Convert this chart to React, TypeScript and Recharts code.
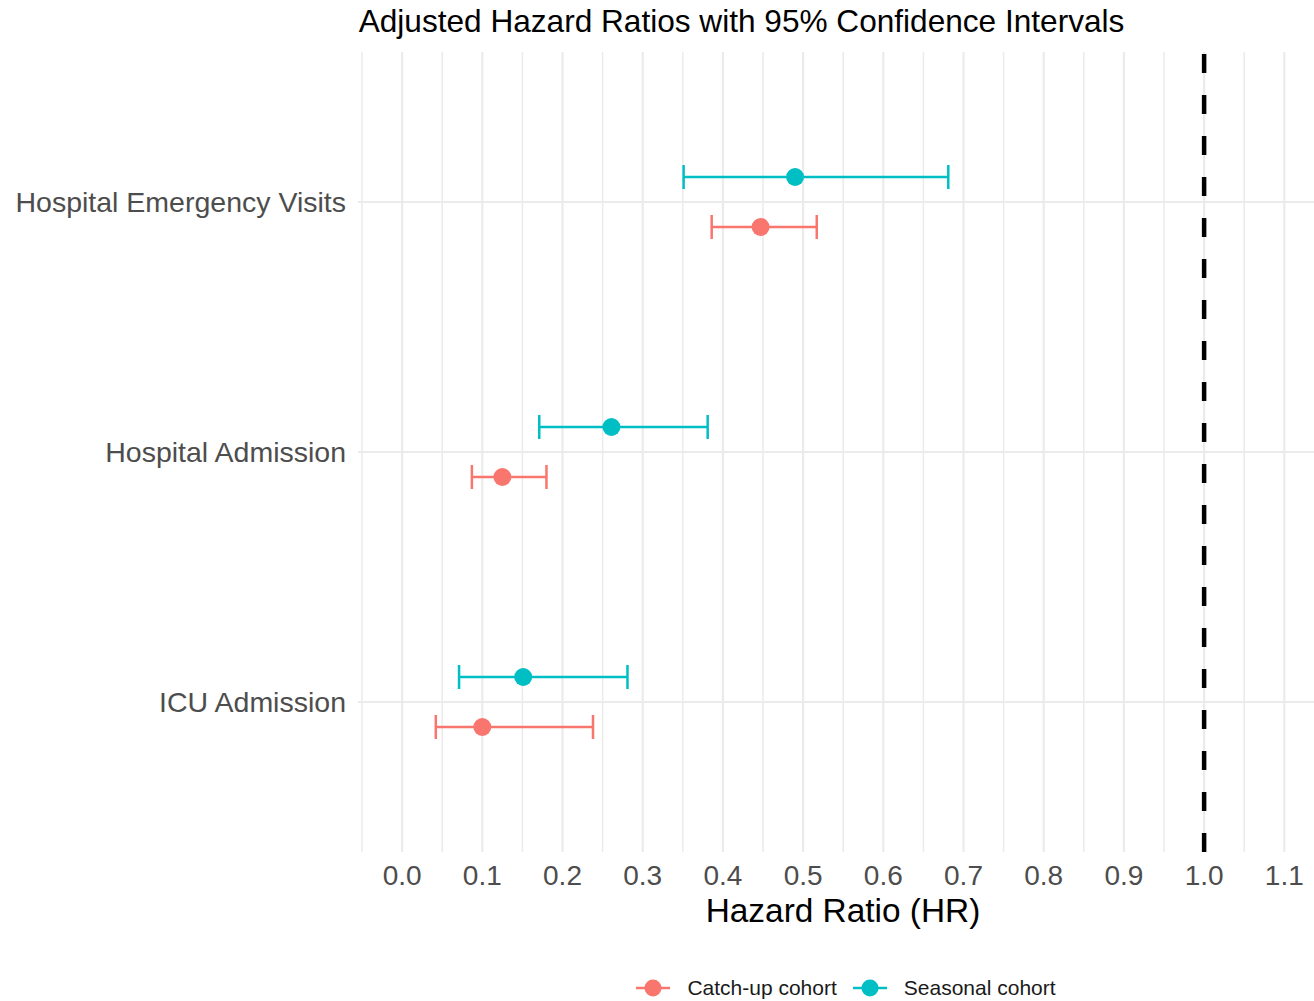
import React from 'react';
import {
  ScatterChart, Scatter, XAxis, YAxis, ErrorBar, ReferenceLine, Legend,
} from 'recharts';

const outcomes = ['Hospital Emergency Visits', 'Hospital Admission', 'ICU Admission'];
const seriesNames = ['Catch-up cohort', 'Seasonal cohort'];
const seriesColors = ['#F8766D', '#00BFC4'];

// Hazard ratios and 95% CI per outcome (same order as outcomes)
const catchupHR = [0.447, 0.125, 0.100];
const catchupLo = [0.386, 0.087, 0.042];
const catchupHi = [0.517, 0.180, 0.238];

const seasonalHR = [0.490, 0.261, 0.151];
const seasonalLo = [0.351, 0.171, 0.071];
const seasonalHi = [0.681, 0.381, 0.281];

const xTicks = [0, 0.1, 0.2, 0.3, 0.4, 0.5, 0.6, 0.7, 0.8, 0.9, 1.0, 1.1];
const xMinorTicks = [-0.05, 0.05, 0.15, 0.25, 0.35, 0.45, 0.55, 0.65, 0.75, 0.85, 0.95, 1.05];
const yTicks = [1, 2, 3];
const dodge = 0.1;

const build = (hr: number[], lo: number[], hi: number[], shift: number) =>
  hr.map((v, i) => ({ y: i + 1 + shift, x: v, err: [v - lo[i], hi[i] - v] }));

const catchupData = build(catchupHR, catchupLo, catchupHi, dodge);
const seasonalData = build(seasonalHR, seasonalLo, seasonalHi, -dodge);

const FONT = '"Liberation Sans", Arial, Helvetica, sans-serif';
const GRID = '#ebebeb';

const makeDot = (color: string) => (props: any) => {
  const { cx, cy } = props;
  if (cx == null || cy == null) return <g />;
  return <circle cx={cx} cy={cy} r={9} fill={color} />;
};

const LegendContent = (props: any) => {
  const payload = props.payload || [];
  return (
    <div style={{ display: 'flex', justifyContent: 'center', alignItems: 'center', paddingLeft: 394, height: 26, fontFamily: FONT }}>
      {payload.map((p: any, i: number) => (
        <div key={i} style={{ display: 'flex', alignItems: 'center', marginRight: 16 }}>
          <svg width={34} height={20} style={{ marginRight: 17 }}>
            <line x1={0} y1={10} x2={34} y2={10} stroke={p.color} strokeWidth={2.5} />
            <circle cx={17} cy={10} r={8.5} fill={p.color} />
          </svg>
          <span style={{ fontSize: 21, color: '#1a1a1a' }}>{p.value}</span>
        </div>
      ))}
    </div>
  );
};

export default function App() {
  return (
    <div style={{ position: 'absolute', left: 0, top: 0, width: 1314, height: 1001, background: '#fff' }}>
      <div
        style={{
          position: 'absolute', top: 3, left: 741.5, transform: 'translateX(-50%)', whiteSpace: 'nowrap',
          fontFamily: FONT, fontSize: 31.6, color: '#000',
        }}
      >
        Adjusted Hazard Ratios with 95% Confidence Intervals
      </div>
      <ScatterChart
        width={1314}
        height={1001}
        margin={{ top: 52, right: 0, bottom: 0, left: 0 }}
        style={{ fontFamily: FONT }}
      >
        {xMinorTicks.map((t) => (
          <ReferenceLine key={'m' + t} x={t} stroke={GRID} strokeWidth={1.5} />
        ))}
        {xTicks.map((t) => (
          <ReferenceLine key={'M' + t} x={t} stroke={GRID} strokeWidth={2.2} />
        ))}
        {yTicks.map((t) => (
          <ReferenceLine key={'y' + t} y={t} stroke={GRID} strokeWidth={2.2} />
        ))}
        <XAxis
          type="number"
          dataKey="x"
          domain={[-0.055, 1.137]}
          ticks={xTicks}
          allowDataOverflow
          tickFormatter={(v: number) => v.toFixed(1)}
          tickLine={false}
          axisLine={false}
          tickSize={6}
          tickMargin={7}
          height={123}
          tick={{ fontSize: 28, fill: '#4d4d4d' }}
          label={{ value: 'Hazard Ratio (HR)', position: 'insideTop', offset: 46, dx: 7, fontSize: 33.4, fill: '#000' }}
        />
        <YAxis
          type="number"
          dataKey="y"
          domain={[0.4, 3.6]}
          reversed
          ticks={yTicks}
          tickFormatter={(v: number) => outcomes[v - 1] ?? ''}
          tickLine={false}
          axisLine={false}
          tickSize={6}
          tickMargin={6}
          width={358}
          tick={{ fontSize: 28.5, fill: '#4d4d4d' }}
        />
        <ReferenceLine x={1} stroke="#000" strokeWidth={4.5} strokeDasharray="19 22" />
        <Legend verticalAlign="bottom" height={26} content={<LegendContent />} />
        <Scatter
          name={seriesNames[0]}
          data={catchupData}
          fill={seriesColors[0]}
          shape={makeDot(seriesColors[0])}
          isAnimationActive={false}
        >
          <ErrorBar dataKey="err" direction="x" width={12} stroke={seriesColors[0]} strokeWidth={2.5} isAnimationActive={false} />
        </Scatter>
        <Scatter
          name={seriesNames[1]}
          data={seasonalData}
          fill={seriesColors[1]}
          shape={makeDot(seriesColors[1])}
          isAnimationActive={false}
        >
          <ErrorBar dataKey="err" direction="x" width={12} stroke={seriesColors[1]} strokeWidth={2.5} isAnimationActive={false} />
        </Scatter>
      </ScatterChart>
    </div>
  );
}
